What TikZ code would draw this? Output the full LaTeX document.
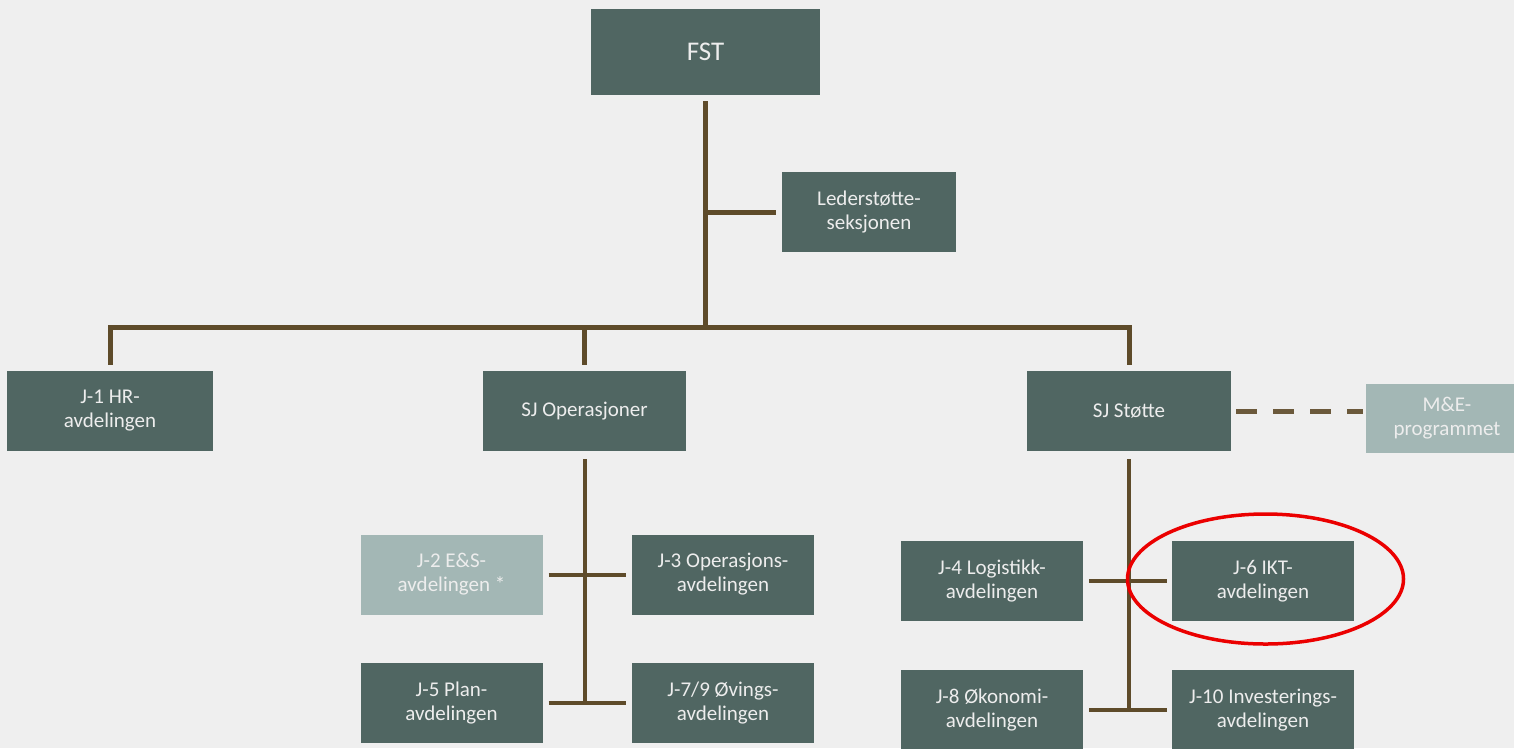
\documentclass[tikz,border=0pt]{standalone}
\usepackage{fontspec}
\setmainfont{Carlito}

\definecolor{boxgreen}{RGB}{80,102,98}
\definecolor{boxpale}{RGB}{163,183,181}
\definecolor{linebrown}{RGB}{94,75,42}
\definecolor{pagegrey}{RGB}{239,239,239}
\definecolor{ringred}{RGB}{235,0,0}

\tikzset{
  unit/.style={fill=boxgreen, text=white!93!black, minimum width=182pt,
    minimum height=80pt, align=center, inner sep=0pt,
    font=\fontsize{21}{24}\selectfont},
  paleunit/.style={unit, fill=boxpale},
  link/.style={draw=linebrown, line width=5pt, line join=miter},
  sublink/.style={draw=linebrown, line width=4pt},
  dashlink/.style={draw=linebrown!92!white, line width=5pt, dash pattern=on 21pt off 16pt},
}

\begin{document}
\begin{tikzpicture}[x=1pt,y=-1pt]
\fill[pagegrey] (0,0) rectangle (1514,748);
\clip (0,0) rectangle (1514,748);

\node[unit, minimum width=229pt, minimum height=86pt, font=\fontsize{27}{30}\selectfont] (fst) at (705.5,52) {FST};
\node[unit, minimum width=174pt] (ledst) at (869,212) {Lederstøtte-\\seksjonen};

\node[unit, minimum width=206pt] (j1) at (110,411) {J-1 HR-\\avdelingen};
\node[unit, minimum width=203pt] (sjop) at (584.5,411) {SJ Operasjoner};
\node[unit, minimum width=204pt] (sjst) at (1129,411) {SJ Støtte};
\node[paleunit, minimum width=162pt, minimum height=69pt] (me) at (1447,418.5) {M\&E-\\programmet};

\node[paleunit] (j2) at (451.5,574.5) {J-2 E\&S-\\avdelingen *};
\node[unit] (j3) at (723,574.5) {J-3 Operasjons-\\avdelingen};
\node[unit] (j5) at (451.5,703) {J-5 Plan-\\avdelingen};
\node[unit] (j79) at (723,703) {J-7/9 Øvings-\\avdelingen};

\node[unit] (j4) at (992,581) {J-4 Logistikk-\\avdelingen};
\node[unit] (j6) at (1263,581) {J-6 IKT-\\avdelingen};
\node[unit] (j8) at (992,710) {J-8 Økonomi-\\avdelingen};
\node[unit] (j10) at (1263,710) {J-10 Investerings-\\avdelingen};

\coordinate (bar) at (705,327);
\draw[link, shorten <=6pt] (fst.south) -- (fst.south |- bar);
\draw[link, shorten >=6pt] (fst.south |- ledst) -- (ledst.west);
\draw[link, shorten <=6pt, shorten >=6pt] (j1.north) -- (j1.north |- bar) -- (sjst.north |- bar) -- (sjst.north);
\draw[link, shorten >=6pt] (sjop.north |- bar) -- (sjop.north);
\draw[dashlink, shorten <=5pt, shorten >=3pt] (sjst.east) -- (me.west |- sjst);

\draw[sublink, shorten <=8pt] (sjop.south) -- (sjop.south |- j5);
\draw[sublink, shorten <=6pt, shorten >=6pt] (j2.east) -- (j3.west);
\draw[sublink, shorten <=6pt, shorten >=6pt] (j5.east) -- (j79.west);

\draw[sublink, shorten <=8pt] (sjst.south) -- (sjst.south |- j8);
\draw[sublink, shorten <=6pt, shorten >=5pt] (j4.east) -- (j6.west);
\draw[sublink, shorten <=6pt, shorten >=5pt] (j8.east) -- (j10.west);

\draw[ringred, line width=3.5pt] ([xshift=2.5pt,yshift=2pt]j6.center) ellipse [x radius=138pt, y radius=65pt];
\end{tikzpicture}
\end{document}
